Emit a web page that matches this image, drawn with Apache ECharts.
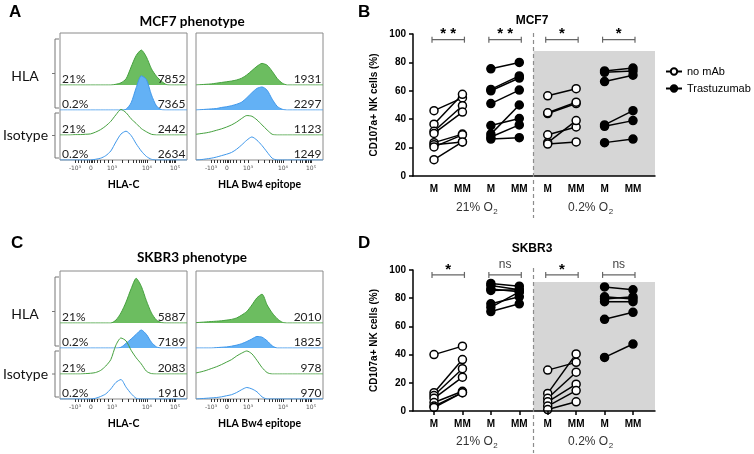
<!DOCTYPE html>
<html><head><meta charset="utf-8">
<script src="https://cdn.jsdelivr.net/npm/echarts@6/dist/echarts.min.js"></script>
<style>html,body{margin:0;padding:0;background:#fff}#c{width:754px;height:454px}</style>
</head><body><div id="c"></div>
<script>
// ---------------- DATA ----------------
// flow cytometry channel bins (arbitrary biexponential channel units, 0..100 across the plot)
const HIST_X = [0,4,8,12,16,20,24,28,32,36,40,44,48,52,56,60,64,68,72,76,80,84,88,92,96,100];
const HIST_TICK_LABELS = ['-10³','0','10³','10⁴','10⁵'];
const HIST_TICK_POS = [11.8, 24.4, 41, 68.5, 90.6];
const ROW_O2 = ['21%','0.2%','21%','0.2%'];

// MCF7 – HLA-C (HLA 21%, HLA 0.2%, Isotype 21%, Isotype 0.2%)
const MCF7_HLAC_HLA21 = [0,0,0,0,0,0,0,0,0,0,0,2,6,17,50,82,97,78,45,24,10,1,0,0,0,0];
const MCF7_HLAC_HLA02 = [0,0,0,0,0,0,0,0,0,0,0,0,0,2,20,62,95,85,42,11,1,0,0,0,0,0];
const MCF7_HLAC_ISO21 = [0,0,0,1,1,2,3,8,15,25,38,56,71,62,45,32,18,9,2,0,0,0,0,0,0,0];
const MCF7_HLAC_ISO02 = [0,0,0,0,0,0,0,2,5,12,25,50,72,80,68,45,25,10,2,0,0,0,0,0,0,0];
const MCF7_HLAC_MFI = ['7852','7365','2442','2634'];
// MCF7 – HLA Bw4 epitope
const MCF7_BW4_HLA21 = [0,1,2,3,5,7,9,11,14,19,28,40,52,60,55,38,18,5,0,0,0,0,0,0,0,0];
const MCF7_BW4_HLA02 = [0,1,2,3,4,7,9,12,16,22,34,48,60,64,55,30,10,2,0,0,0,0,0,0,0,0];
const MCF7_BW4_ISO21 = [2,4,6,9,13,17,22,28,36,46,54,52,42,28,14,2,0,0,0,0,0,0,0,0,0,0];
const MCF7_BW4_ISO02 = [0,1,3,5,8,12,16,21,30,42,55,64,55,40,22,5,0,0,0,0,0,0,0,0,0,0];
const MCF7_BW4_MFI = ['1931','2297','1123','1249'];
// SKBR3 – HLA-C
const SKBR3_HLAC_HLA21 = [0,0,0,0,0,0,0,0,0,0,0,8,28,58,95,124,102,62,28,8,1,0,0,0,0,0];
const SKBR3_HLAC_HLA02 = [0,0,0,0,0,0,0,0,0,0,0,0,2,13,25,38,50,38,16,3,0,0,0,0,0,0];
const SKBR3_HLAC_ISO21 = [0,0,0,0,0,1,2,4,10,22,40,80,100,92,66,45,28,8,1,0,0,0,0,0,0,0];
const SKBR3_HLAC_ISO02 = [0,0,0,0,0,0,0,2,7,14,28,46,54,33,15,2,0,0,0,0,0,0,0,0,0,0];
const SKBR3_HLAC_MFI = ['5887','7189','2083','1910'];
// SKBR3 – HLA Bw4 epitope
const SKBR3_BW4_HLA21 = [1,2,3,4,5,6,8,10,14,22,32,50,70,80,50,28,12,2,0,0,0,0,0,0,0,0];
const SKBR3_BW4_HLA02 = [0,0,0,0,1,2,3,5,8,12,18,25,32,30,20,6,0,0,0,0,0,0,0,0,0,0];
const SKBR3_BW4_ISO21 = [3,6,10,15,20,26,33,40,50,58,64,56,38,18,4,0,0,0,0,0,0,0,0,0,0,0];
const SKBR3_BW4_ISO02 = [0,1,2,3,4,6,9,12,18,26,32,28,20,6,0,0,0,0,0,0,0,0,0,0,0,0];
const SKBR3_BW4_MFI = ['2010','1825','978','970'];

// CD107a+ NK cells (%), paired M -> MM per donor
const CATEGORIES = ['M','MM','M','MM','M','MM','M','MM'];
const MCF7_21_NOMAB_M  = [46, 36.5, 31.5, 30, 23.5, 22, 20.5, 11.5];
const MCF7_21_NOMAB_MM = [55, 57.5, 49.5, 45, 29.5, 24, 29, 24];
const MCF7_21_TRAS_M   = [75.5, 61, 60, 51, 35.5, 29.5, 27.5, 26];
const MCF7_21_TRAS_MM  = [80, 70.5, 69, 60.5, 40.5, 50, 36, 27];
const MCF7_02_NOMAB_M  = [56.5, 44, 44.5, 29, 23.5, 22.5];
const MCF7_02_NOMAB_MM = [61.5, 51, 52, 34.5, 39, 24];
const MCF7_02_TRAS_M   = [74, 73, 66.5, 36, 35, 23.5];
const MCF7_02_TRAS_MM  = [76, 74, 71, 46, 39, 26];
const MCF7_SIG = ['* *','* *','*','*'];

const SKBR3_21_NOMAB_M  = [40, 13, 11, 9, 6, 3.5, 2.5];
const SKBR3_21_NOMAB_MM = [46, 36.5, 30, 24, 14, 13, 13];
const SKBR3_21_TRAS_M   = [90.5, 89, 86.5, 85.5, 76, 73.5, 70.5];
const SKBR3_21_TRAS_MM  = [88.5, 86, 84.5, 86, 81, 84.5, 76];
const SKBR3_02_NOMAB_M  = [29, 12.5, 9, 6.5, 3.5, 1];
const SKBR3_02_NOMAB_MM = [34.5, 40.5, 27.5, 19, 14.5, 6.5];
const SKBR3_02_TRAS_M   = [88, 81, 79.5, 77.5, 65, 38];
const SKBR3_02_TRAS_MM  = [86, 79.5, 81, 77.5, 70, 47.5];
const SKBR3_SIG = ['*','ns','*','ns'];

// ---------------- STYLE / LAYOUT ----------------
const F_CAL = 'Lato, "Open Sans", sans-serif';
const F_AR = '"Liberation Sans", Arial, sans-serif';
const GREEN_LINE = '#45a03e', GREEN_FILL = '#6cbd60', BLUE_LINE = '#3f97ea', BLUE_FILL = '#63b1f5';
const BOX_W = 127, ROW_H = 50.4, ROW_MAX = 140;
const X_MIN = 0.261, X_MAX = 8.774;

const option = {animation:false, backgroundColor:'#fff', grid:[], xAxis:[], yAxis:[], series:[],
  legend:{left:660, top:61, orient:'vertical', itemWidth:16, itemHeight:8, itemGap:6, selectedMode:false,
    textStyle:{fontSize:11, fontFamily:F_AR, color:'#000'}, data:['no mAb','Trastuzumab']}};
function addGrid(g, xa, ya){ option.grid.push(g); const gi=option.grid.length-1; xa.gridIndex=gi; ya.gridIndex=gi; option.xAxis.push(xa); option.yAxis.push(ya); return gi; }

const majorMinor = HIST_TICK_POS.concat([14,16.5,19,21.5,23,25.5,27,29.5,32,35,38,49.3,54.1,57.6,60.2,62.4,64.2,65.8,67.2,75.2,79.0,81.8,83.9,85.7,87.2,88.5,89.6]);
function tickLabel(v){ let best=0; HIST_TICK_POS.forEach((p,i)=>{ if(Math.abs(p-v)<Math.abs(HIST_TICK_POS[best]-v)) best=i; }); return HIST_TICK_LABELS[best]; }

const boxes = [
  {L:60, T:33, base:[85,110,135,160], curves:[MCF7_HLAC_HLA21,MCF7_HLAC_HLA02,MCF7_HLAC_ISO21,MCF7_HLAC_ISO02], mfi:MCF7_HLAC_MFI, xname:'HLA-C', pct:true},
  {L:196, T:33, base:[85,110,135,160], curves:[MCF7_BW4_HLA21,MCF7_BW4_HLA02,MCF7_BW4_ISO21,MCF7_BW4_ISO02], mfi:MCF7_BW4_MFI, xname:'HLA Bw4 epitope', pct:false},
  {L:60, T:271, base:[323,348,374,399], curves:[SKBR3_HLAC_HLA21,SKBR3_HLAC_HLA02,SKBR3_HLAC_ISO21,SKBR3_HLAC_ISO02], mfi:SKBR3_HLAC_MFI, xname:'HLA-C', pct:true},
  {L:196, T:271, base:[323,348,374,399], curves:[SKBR3_BW4_HLA21,SKBR3_BW4_HLA02,SKBR3_BW4_ISO21,SKBR3_BW4_ISO02], mfi:SKBR3_BW4_MFI, xname:'HLA Bw4 epitope', pct:false}
];
const rowStyle = [
  {line:GREEN_LINE, fill:GREEN_FILL}, {line:BLUE_LINE, fill:BLUE_FILL},
  {line:GREEN_LINE, fill:null}, {line:BLUE_LINE, fill:null}
];
boxes.forEach(b=>{
  const bottom = b.base[3];
  addGrid({left:b.L, top:b.T, width:BOX_W, height:bottom-b.T, show:true, borderColor:'#8a8a8a', borderWidth:1, backgroundColor:'rgba(0,0,0,0)'},
    {type:'value', min:0, max:100, splitLine:{show:false}, axisLine:{show:false},
     axisTick:{show:true, customValues:majorMinor, length:3, lineStyle:{color:'#333', width:1}},
     axisLabel:{show:true, customValues:HIST_TICK_POS, formatter:tickLabel, fontSize:6, color:'#555', margin:5, fontFamily:'"DejaVu Sans"'}},
    {type:'value', min:0, max:1, show:false});
  b.curves.forEach((arr,r)=>{
    const gi = addGrid({left:b.L, top:b.base[r]-ROW_H, width:BOX_W, height:ROW_H},
      {type:'value', min:0, max:100, show:false}, {type:'value', min:0, max:ROW_MAX, show:false});
    const st = rowStyle[r];
    const s = {type:'line', xAxisIndex:gi, yAxisIndex:gi, data:HIST_X.map((x,i)=>[x,arr[i]]), symbol:'none', smooth:0.25,
      silent:true, z:2+r, lineStyle:{color:st.line, width:1}};
    if (st.fill) s.areaStyle = {color:st.fill, opacity:1};
    option.series.push(s);
  });
});

const panels = [
  {top:34, bottom:176, ticks:false, grayTop:88, sig:MCF7_SIG, bracketY:96, dashTop:33, dashBottom:218, o2Y:208,
   groups:[[MCF7_21_NOMAB_M,MCF7_21_NOMAB_MM],[MCF7_21_TRAS_M,MCF7_21_TRAS_MM],[MCF7_02_NOMAB_M,MCF7_02_NOMAB_MM],[MCF7_02_TRAS_M,MCF7_02_TRAS_MM]]},
  {top:270, bottom:411, ticks:true, grayTop:91.5, sig:SKBR3_SIG, bracketY:96.5, dashTop:268, dashBottom:453, o2Y:442,
   groups:[[SKBR3_21_NOMAB_M,SKBR3_21_NOMAB_MM],[SKBR3_21_TRAS_M,SKBR3_21_TRAS_MM],[SKBR3_02_NOMAB_M,SKBR3_02_NOMAB_MM],[SKBR3_02_TRAS_M,SKBR3_02_TRAS_MM]]}
];
panels.forEach(p=>{
  p.gi = addGrid({left:413, right:754-655, top:p.top, bottom:454-p.bottom},
    {type:'value', min:X_MIN, max:X_MAX, z:5, splitLine:{show:false},
     axisLine:{show:true, onZero:false, lineStyle:{color:'#000', width:1.5}},
     axisTick:{show:p.ticks, customValues:[1,2,3,4,5,6,7,8], length:4, lineStyle:{color:'#000', width:1.5}},
     axisLabel:{customValues:[1,2,3,4,5,6,7,8], formatter:v=>CATEGORIES[Math.round(v)-1], fontWeight:'bold', fontSize:10, color:'#000', fontFamily:F_AR, margin:8}},
    {type:'value', min:0, max:100, interval:20, z:5, splitLine:{show:false},
     axisLine:{show:true, lineStyle:{color:'#000', width:1.5}},
     axisTick:{show:true, length:4, lineStyle:{color:'#000', width:1.5}},
     axisLabel:{fontWeight:'bold', fontSize:10, color:'#000', fontFamily:F_AR, margin:7},
     name:'CD107a+ NK cells (%)', nameLocation:'middle', nameGap:34,
     nameTextStyle:{fontWeight:'bold', fontSize:10, color:'#000', fontFamily:F_AR}});
  option.series.push({type:'line', xAxisIndex:p.gi, yAxisIndex:p.gi, data:[], z:1, silent:true,
    markArea:{silent:true, itemStyle:{color:'#d6d6d6'}, data:[[{coord:[4.5,0]},{coord:[X_MAX,p.grayTop]}]]}});
  p.groups.forEach((g,k)=>{
    const filled = (k%2===1), xM = 2*k+1;
    g[0].forEach((m,i)=>{
      option.series.push({type:'line', name: filled?'Trastuzumab':'no mAb', xAxisIndex:p.gi, yAxisIndex:p.gi,
        data:[[xM,m],[xM+1,g[1][i]]], symbol:'circle', symbolSize:8, clip:false, z:4,
        lineStyle:{color:'#000', width:1.5},
        itemStyle:{color: filled?'#000':'#fff', borderColor:'#000', borderWidth:1.5}});
    });
  });
});

const chart = echarts.init(document.getElementById('c'), null, {renderer:'canvas', width:754, height:454});
chart.setOption(option);

// ---------------- ANNOTATIONS ----------------
const G = [];
function T(x,y,text,font,o){ G.push({type:'text', x, y, z:100, style:Object.assign({text, font, fill:'#000', textAlign:'left', textVerticalAlign:'middle'}, o||{})}); }
function L(x1,y1,x2,y2,stroke,lw,dash){ G.push({type:'line', z:100, shape:{x1,y1,x2,y2}, style:{stroke, lineWidth:lw, lineDash:dash||null}}); }
function P(points,stroke,lw){ G.push({type:'polyline', z:100, shape:{points}, style:{stroke, lineWidth:lw, fill:null}}); }
const ctx = document.createElement('canvas').getContext('2d');
function W(text,font){ ctx.font=font; return ctx.measureText(text).width; }

// panel letters
T(9,12,'A','bold 17px '+F_AR); T(358,12,'B','bold 17px '+F_AR);
T(11,243,'C','bold 17px '+F_AR); T(358,243,'D','bold 17px '+F_AR);
// phenotype titles
T(192,22,'MCF7 phenotype','bold 13.5px '+F_CAL,{textAlign:'center'});
T(192,258,'SKBR3 phenotype','bold 13.5px '+F_CAL,{textAlign:'center'});

boxes.forEach(b=>{
  const R = b.L+BOX_W, bottom=b.base[3];
  b.mfi.forEach((t,r)=>{
    T(R-1.5, b.base[r]-6, t, '12px '+F_CAL, {textAlign:'right', fill:'#222'});
    if (b.pct) T(b.L+2, b.base[r]-6, ROW_O2[r], '12px '+F_CAL, {fill:'#222'});
  });
  T(b.L+BOX_W/2, bottom+25, b.xname, 'bold 10.5px '+F_CAL, {textAlign:'center'});
  if (b.pct){
    const bx = b.L-5;
    const h1 = b.T+6, h2 = b.base[1]-2, i1 = b.base[1]+3, i2 = b.base[3]-2;
    P([[bx+4,h1],[bx,h1],[bx,h2],[bx+4,h2]], '#777', 1);
    L(bx-3,(h1+h2)/2,bx,(h1+h2)/2,'#777',1);
    P([[bx+4,i1],[bx,i1],[bx,i2],[bx+4,i2]], '#777', 1);
    L(bx-3,(i1+i2)/2,bx,(i1+i2)/2,'#777',1);
    T(25,(h1+h2)/2+3,'HLA','14px '+F_CAL,{textAlign:'center', fill:'#111'});
    T(25.5,(i1+i2)/2,'Isotype','14px '+F_CAL,{textAlign:'center', fill:'#111'});
  }
});

T(532,21,'MCF7','bold 12px '+F_AR,{textAlign:'center'});
T(532,249,'SKBR3','bold 12px '+F_AR,{textAlign:'center'});

const O2_GROUPS = [['21% O',2.5],['0.2% O',6.5]];
panels.forEach(p=>{
  const px = v=>chart.convertToPixel({gridIndex:p.gi}, v);
  const dx = px([4.5,0])[0];
  L(dx,p.dashTop,dx,p.dashBottom,'#8c8c8c',1.2,[4,3]);
  p.sig.forEach((s,k)=>{
    const a = px([2*k+1,p.bracketY]), b = px([2*k+2,p.bracketY]);
    const x1=a[0]-2, x2=b[0]+2, y=a[1];
    L(x1,y,x2,y,'#666',1.2); L(x1,y-3,x1,y+3,'#666',1.2); L(x2,y-3,x2,y+3,'#666',1.2);
    if (s==='ns') T((x1+x2)/2, y-4.5, s, '12px '+F_AR, {textAlign:'center', textVerticalAlign:'bottom', fill:'#444'});
    else T((x1+x2)/2, y+2, s, 'bold 15px '+F_AR, {textAlign:'center', textVerticalAlign:'bottom'});
  });
  O2_GROUPS.forEach(([t,xv])=>{
    const cx = px([xv,0])[0];
    const f1='12px '+F_AR, f2='8px '+F_AR;
    const w1=W(t,f1), w2=W('2',f2), x0 = cx-(w1+w2)/2;
    T(x0,p.o2Y,t,f1,{fill:'#333'});
    T(x0+w1+0.5,p.o2Y+4,'2',f2,{fill:'#333'});
  });
});
chart.setOption({graphic:{elements:G}});
</script></body></html>
